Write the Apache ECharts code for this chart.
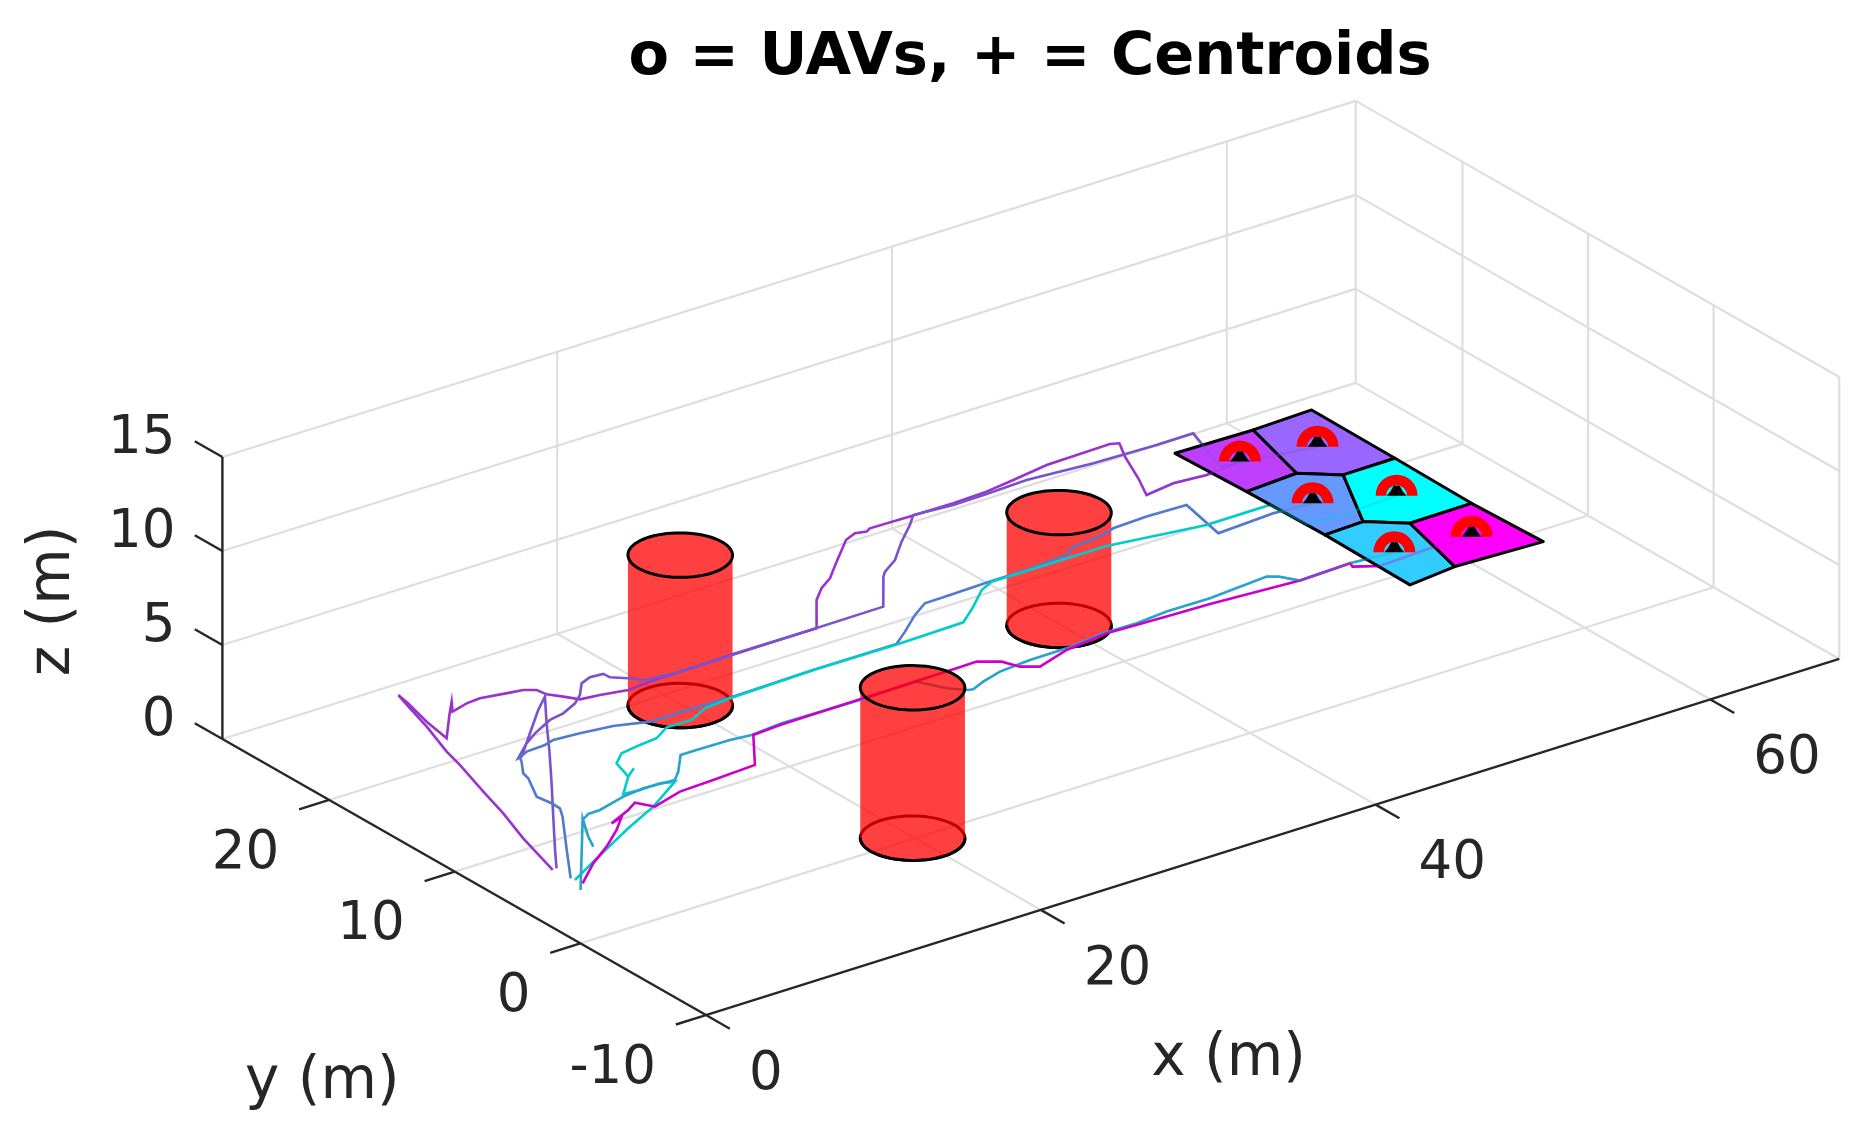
<!DOCTYPE html>
<html>
<head>
<meta charset="utf-8">
<style>html,body{margin:0;padding:0;background:#fff}#chart{width:1875px;height:1144px;filter:blur(0.4px)}</style>
<script src="https://cdn.jsdelivr.net/npm/echarts@6/dist/echarts.min.js"></script>
</head>
<body>
<div id="chart"></div>
<script>
// ---------- axis limits and ticks ----------
const xLimits = [0, 67.7];
const yLimits = [-10, 28.5];
const zLimits = [0, 15];
const xTicks = [0, 20, 40, 60];
const yTicks = [-10, 0, 10, 20];
const zTicks = [0, 5, 10, 15];
const titleText = 'o = UAVs, + = Centroids';

// ---------- trajectories (m), all flown at one altitude ----------
const flightZ = 3;
const uav1X = [0.08,1.08,2.00,2.64,3.59,3.98,4.90,5.49,5.94,5.76,5.23,4.88,6.56,7.55,6.91,8.01,8.86,10.40,11.09,11.61,11.70,12.19,12.65,13.71,15.14,16.54,18.37,21.62,26.56,28.47,29.45,30.45,31.83,33.65,33.85,34.45,35.01,35.36,37.69,40.26,42.33,44.15,46.45,50.30,50.71,50.03,49.08,48.27,50.09,51.94,52.05,54.12];
const uav1Y = [2.31,5.99,8.80,11.12,14.38,15.95,18.76,20.88,22.41,21.38,19.21,17.15,19.17,20.31,19.38,19.73,19.81,19.47,19.33,18.95,18.28,17.60,16.89,16.71,16.36,16.50,16.55,16.64,16.59,19.14,20.05,20.71,22.02,23.70,23.79,24.05,23.87,24.08,24.00,23.97,24.08,24.37,24.78,24.88,24.67,23.32,20.99,19.26,19.55,19.36,19.51,19.62];
const uav2X = [0.34,1.52,3.70,5.89,8.05,9.74,11.48,10.32,8.43,6.53,6.29,7.62,8.62,10.10,11.06,12.19,12.94,13.79,14.52,15.26,15.29,15.93,16.52,18.37,30.59,32.62,33.02,34.19,35.68,37.13,37.93,40.15,42.18,44.66,48.36,52.03,54.23,53.01,58.12];
const uav2Y = [2.35,4.04,7.09,10.14,13.20,15.67,18.12,17.11,15.25,13.38,13.33,14.44,15.10,15.88,16.10,16.67,17.28,18.28,18.59,18.51,18.02,17.41,16.74,16.55,16.65,19.35,19.75,20.52,21.98,23.25,24.05,23.82,23.87,24.00,23.61,23.47,23.48,19.73,18.77];
const uav3X = [0.21,1.97,4.06,4.52,4.54,4.41,5.33,5.47,6.19,6.42,7.06,8.22,8.88,10.35,12.13,13.84,16.41,18.43,23.62,28.58,29.74,31.25,32.42,33.95,36.39,38.59,41.14,41.96,43.66,44.74,46.81,49.14,48.45,51.92,54.11];
const uav3Y = [1.05,3.71,6.83,7.65,8.34,9.36,11.25,11.84,12.93,13.37,13.69,13.77,13.99,13.83,13.55,12.90,12.88,12.79,12.94,12.92,13.79,15.01,15.78,15.82,15.89,15.90,16.12,16.68,16.83,17.20,17.31,17.23,13.78,14.03,13.82];
const uav4X = [0.26,2.21,5.80,8.23,10.75,10.06,8.84,7.93,9.29,10.07,9.29,9.74,10.61,11.88,12.97,14.10,15.56,16.86,18.50,23.62,28.65,32.62,34.06,35.51,36.45,43.29,48.56,52.35,52.48,54.92,57.86];
const uav4Y = [0.78,1.91,3.92,5.16,6.80,7.07,7.04,7.15,8.57,9.16,8.57,10.10,10.86,11.09,11.22,11.92,11.88,12.55,12.74,12.94,12.87,12.98,14.11,15.37,15.84,15.80,14.86,14.87,12.13,11.92,12.13];
const uav5X = [-0.20,2.09,4.72,3.70,3.22,3.70,4.61,5.23,5.95,7.75,9.08,10.86,11.56,12.77,13.72,15.68,16.86,18.80,23.39,26.81,27.52,28.24,28.48,29.38,30.70,32.64,34.84,37.27,39.23,41.17,43.74,47.39,47.84,48.40,51.50,53.95];
const uav5Y = [-0.28,2.69,6.11,4.30,3.26,4.30,5.96,6.34,6.37,6.91,7.10,6.95,7.61,9.04,9.04,8.99,8.83,9.03,8.92,8.97,7.52,6.76,6.68,7.08,7.51,7.71,7.72,8.04,7.99,8.20,8.17,8.52,8.19,7.22,7.36,7.10];
const uav6X = [0.33,2.09,3.73,5.24,6.34,5.50,7.04,7.79,8.09,8.29,10.27,12.34,14.96,16.92,18.62,29.25,30.48,31.44,31.81,32.58,34.73,37.40,40.83,43.36,48.40,51.50,51.37,52.47,55.59,57.98];
const uav6Y = [0.26,1.76,2.88,4.10,5.16,4.84,5.57,6.04,5.50,5.12,5.76,5.87,6.04,8.78,8.93,9.03,9.07,8.36,7.39,6.83,7.57,7.94,7.75,7.66,7.22,7.36,6.99,6.28,6.45,6.32];
const uavColors = ['#9933CC','#7A52CC','#527ACC','#00CCCC','#29A3CC','#CC00CC'];

// ---------- final UAV positions ----------
const centroidX = [54.12,58.12,54.11,57.86,53.95,57.98];
const centroidY = [19.62,18.77,13.82,12.13,7.10,6.32];

// ---------- partition cells (Voronoi) ----------
const cell1X = [52.18,56.77,55.52,52.35];
const cell1Y = [22.20,22.09,16.97,16.73];
const cell2X = [56.77,60.37,60.32,57.20,55.52];
const cell2Y = [22.09,22.24,15.54,15.50,16.97];
const cell3X = [52.35,55.52,57.20,54.82,52.45];
const cell3Y = [16.73,16.97,15.50,10.74,10.62];
const cell4X = [57.20,60.32,60.23,56.51,54.82];
const cell4Y = [15.50,15.54,9.32,9.27,10.74];
const cell5X = [52.45,54.82,56.51,55.32,52.35];
const cell5Y = [10.62,10.74,9.27,4.10,3.72];
const cell6X = [56.51,60.23,60.41,55.32];
const cell6Y = [9.27,9.32,3.85,4.10];
const cellColors = ['#BF3FFF','#9966FF','#6699FF','#00FFFF','#33CCFF','#FF00FF'];

// ---------- obstacles ----------
const cylX = [19.9, 39.9, 19.9];
const cylY = [18.57, 15.07, 0.07];
const cylHeights = [8, 6, 8];
const cylRadius = 2.5;

// ---------- view: orthographic projection of (x,y,z) on to the page plane ----------
const view = {ox:222.4, oy:739, xx:16.74, xy:-5.26, yx:-12.56, yy:-7.17, zy:-18.8};
const [xMin,xMax]=xLimits, [yMin,yMax]=yLimits, [zMin,zMax]=zLimits;
function project(x,y,z){
  return [view.ox + view.xx*x + view.yx*(y-yMax),
          view.oy + view.xy*x + view.yy*(y-yMax) + view.zy*z];
}
const GRID='#DEDEDE', AXIS='#262626', TEXT='#262626', FONT='"DejaVu Sans"';

// segments [x0,y0,z0,x1,y1,z1]
const gridSegs=[];
xTicks.filter(v=>v>xMin).forEach(x=>{
  gridSegs.push([x,yMin,0,x,yMax,0]);
  gridSegs.push([x,yMax,0,x,yMax,zMax]);
});
yTicks.filter(v=>v>yMin).forEach(y=>{
  gridSegs.push([xMin,y,0,xMax,y,0]);
  gridSegs.push([xMax,y,0,xMax,y,zMax]);
});
zTicks.forEach(z=>{
  gridSegs.push([xMin,yMax,z,xMax,yMax,z]);
  gridSegs.push([xMax,yMax,z,xMax,yMin,z]);
});
gridSegs.push([xMax,yMax,0,xMax,yMax,zMax]);
gridSegs.push([xMax,yMin,0,xMax,yMin,zMax]);

const axisSegs=[
  [xMin,yMax,0,xMin,yMax,zMax],
  [xMin,yMax,0,xMin,yMin,0],
  [xMin,yMin,0,xMax,yMin,0]
];
xTicks.forEach(x=>axisSegs.push([x,yMin,0,x,yMin-1.9,0]));
yTicks.forEach(y=>axisSegs.push([xMin,y,0,xMin-1.8,y,0]));
zTicks.forEach(z=>axisSegs.push([xMin,yMax,z,xMin,yMax+2.2,z]));

function segSeries(segs,color,width,z){
  return {type:'custom',coordinateSystem:'cartesian2d',z,silent:true,animation:false,
    data:segs,
    renderItem(p,api){
      const a=api.coord(project(api.value(0),api.value(1),api.value(2)));
      const b=api.coord(project(api.value(3),api.value(4),api.value(5)));
      return {type:'line',shape:{x1:a[0],y1:a[1],x2:b[0],y2:b[1]},style:{stroke:color,lineWidth:width}};
    }};
}
function circlePts(api,cx,cy,z,from,to,n){
  const e=Math.hypot(view.xx,view.yx);
  const e1=[view.xx/e,view.yx/e], e2=[-view.yx/e,view.xx/e];
  const pts=[];
  for(let i=0;i<=n;i++){
    const t=from+(to-from)*i/n;
    pts.push(api.coord(project(cx+cylRadius*(Math.cos(t)*e1[0]+Math.sin(t)*e2[0]),
                               cy+cylRadius*(Math.cos(t)*e1[1]+Math.sin(t)*e2[1]),z)));
  }
  return pts;
}
const cylData=cylX.map((x,i)=>[x,cylY[i],cylHeights[i]]);
const RED='rgba(255,0,0,0.75)', PI=Math.PI;
function cylSeries(z,build){
  return {type:'custom',coordinateSystem:'cartesian2d',z,silent:true,animation:false,data:cylData,
    renderItem(p,api){return {type:'group',children:build(api,api.value(0),api.value(1),api.value(2))};}};
}
function labelSeries(items,z){
  return {type:'custom',coordinateSystem:'cartesian2d',z,silent:false,animation:false,
    data:items.map((it,i)=>[it.sx,it.sy,i]),
    renderItem(p,api){
      const it=items[api.value(2)], c=api.coord([api.value(0),api.value(1)]);
      return {type:'text',x:c[0]+it.dx,y:c[1]+it.dy,rotation:it.rot||0,
        style:{text:it.text,fill:TEXT,fontSize:it.size,fontFamily:FONT,align:it.align,verticalAlign:'middle'}};
    }};
}
function anchored(text,pos,dx,dy,align,size,rot){
  return {text:String(text),sx:pos[0],sy:pos[1],dx,dy,align,size,rot};
}
const TICK=53, LABEL=58;
const labels=[];
zTicks.forEach(z=>labels.push(anchored(z,project(xMin,yMax,z),-47,-18,'right',TICK)));
yTicks.forEach(y=>labels.push(anchored(y,project(xMin,y,0),-50,54,'right',TICK)));
xTicks.forEach(x=>labels.push(anchored(x,project(x,yMin,0),43,60,'left',TICK)));
labels.push(anchored('x (m)',project(40,yMin,0),-147,255,'center',LABEL));
labels.push(anchored('y (m)',project(xMin,0,0),-258,140,'center',LABEL));
labels.push(anchored('z (m)',project(xMin,yMax,7.5),-168,3,'center',LABEL,PI/2));

const uavPaths=[[uav1X,uav1Y],[uav2X,uav2Y],[uav3X,uav3Y],[uav4X,uav4Y],[uav5X,uav5Y],[uav6X,uav6Y]];
const pathSeries=uavPaths.map(([xs,ys],i)=>({
  type:'line',coordinateSystem:'cartesian2d',z:4,silent:true,animation:false,symbol:'none',clip:false,
  lineStyle:{color:uavColors[i],width:2.6,join:'miter'},
  data:xs.map((x,k)=>project(x,ys[k],flightZ))
}));
const overlaySeries=uavPaths.map(([xs,ys],i)=>({
  type:'line',coordinateSystem:'cartesian2d',z:7,silent:true,animation:false,symbol:'none',clip:false,
  lineStyle:{color:uavColors[i],width:2.6,opacity:0.35},
  data:xs.map((x,k)=>project(x,ys[k],flightZ)).slice(-4)
}));
const cells=[[cell1X,cell1Y],[cell2X,cell2Y],[cell3X,cell3Y],[cell4X,cell4Y],[cell5X,cell5Y],[cell6X,cell6Y]];
const uavMarkShape=[[-10,0],[-6.5,-4],[-3,-10],[3,-10],[6.5,-4],[10,0]];

const option={
  backgroundColor:'#fff',
  animation:false,
  title:{text:titleText,left:1025,top:24,textAlign:'center',
    textStyle:{fontFamily:FONT,fontWeight:'bold',fontSize:59,color:'#000'}},
  grid:{left:0,right:0,top:0,bottom:0},
  xAxis:{type:'value',min:0,max:1875,show:false},
  yAxis:{type:'value',min:0,max:1144,inverse:true,show:false},
  series:[
    segSeries(gridSegs,GRID,2.2,1),
    segSeries(axisSegs,AXIS,2.4,2),
    cylSeries(3,(api,cx,cy)=>[{type:'polygon',shape:{points:circlePts(api,cx,cy,0,0,2*PI,72)},
        style:{fill:'none',stroke:'#000',lineWidth:3}}]),
    cylSeries(3.5,(api,cx,cy,h)=>{
      const low=circlePts(api,cx,cy,0,PI,2*PI,36);
      const up=circlePts(api,cx,cy,h,2*PI,PI,36);
      return [{type:'polygon',shape:{points:low.concat(up)},style:{fill:RED}},
              {type:'polyline',shape:{points:low},style:{fill:'none',stroke:'#000',lineWidth:3}}];
    }),
    ...pathSeries,
    cylSeries(5,(api,cx,cy,h)=>[{type:'polygon',shape:{points:circlePts(api,cx,cy,h,0,2*PI,72)},
        style:{fill:RED,stroke:'#000',lineWidth:3}}]),
    {type:'custom',coordinateSystem:'cartesian2d',z:6,silent:true,animation:false,
      data:cells.map((c,i)=>[i]),
      renderItem(p,api){
        const i=api.value(0),[xs,ys]=cells[i];
        return {type:'polygon',shape:{points:xs.map((x,k)=>api.coord(project(x,ys[k],flightZ)))},
          style:{fill:cellColors[i],stroke:'#000',lineWidth:3,lineJoin:'round'}};
      }},
    ...overlaySeries,
    {type:'custom',coordinateSystem:'cartesian2d',z:8,silent:true,animation:false,
      data:centroidX.map((x,i)=>[x,centroidY[i]]),
      renderItem(p,api){
        const c=api.coord(project(api.value(0),api.value(1),flightZ));
        return {type:'group',children:[
          {type:'sector',shape:{cx:c[0],cy:c[1],r0:10.5,r:21,startAngle:PI,endAngle:2*PI},style:{fill:'#FF0000'}},
          {type:'polygon',shape:{points:uavMarkShape.map(q=>[c[0]+q[0],c[1]+q[1]])},style:{fill:'#000'}}
        ]};
      }},
    labelSeries(labels,9)
  ]
};
const chart=echarts.init(document.getElementById('chart'),null,{renderer:'canvas'});
chart.setOption(option);
</script>
</body>
</html>
